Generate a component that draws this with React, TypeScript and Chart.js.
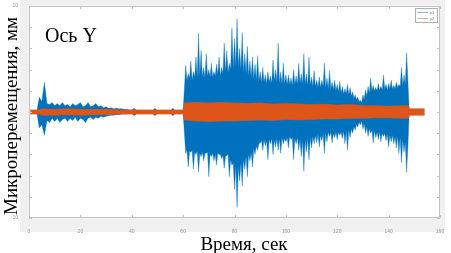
import React, { useEffect, useRef } from "react";
import { Chart, registerables } from "chart.js";

Chart.register(...registerables);

// Blue series (y1): peak envelope, sampled every 1 s from t = 0 to 155
const blueUpper: (number | null)[] = [
  0, 0, 0, 0, 1.4, 1.0, 2.8, 0.8, 0.7, 0.9,
  0.6, 0.8, 0.6, 0.9, 0.6, 0.7, 0.5, 0.8, 0.6, 0.7,
  0.9, 0.5, 0.6, 0.9, 0.5, 0.6, 0.8, 0.5, 0.6, 0.4,
  0.5, 0.35, 0.4, 0.3, 0.35, 0.3, 0.3, 0.25, 0.25, 0.2,
  0.2, 0.35, 0.15, 0.12, 0.12, 0.12, 0.12, 0.12, 0.12, 0.35,
  0.12, 0.12, 0.12, 0.12, 0.12, 0.12, 0.35, 0.12, 0.12, 0.12,
  0.12, 4.4, 3.6, 4.8, 3.8, 5.2, 7.4, 5.8, 4.2, 5.5,
  4.0, 4.6, 3.8, 4.5, 5.2, 4.2, 6.5, 5.8, 4.6, 7.9,
  6.9, 8.8, 6.0, 7.5, 5.5, 6.2, 4.8, 5.2, 4.5, 5.3,
  3.8, 4.2, 3.5, 3.8, 3.4, 4.9, 4.0, 6.5, 3.8, 4.6,
  3.5, 3.5, 3.2, 4.0, 3.4, 4.6, 3.6, 5.5, 3.6, 5.2,
  3.3, 3.9, 3.0, 3.3, 3.0, 4.6, 3.2, 3.9, 2.8, 3.0,
  2.6, 2.9, 2.4, 2.2, 2.6, 2.3, 1.9, 1.6, 1.4, 1.1,
  1.6, 2.1, 2.4, 3.2, 2.5, 2.3, 2.7, 2.4, 3.5, 2.6,
  2.7, 3.0, 2.5, 2.8, 2.6, 4.2, 3.5, 5.6, 0.25, 0.25,
  0.25, 0.25, 0.25, 0.25, 0.25, null,
];
const blueLower: (number | null)[] = [
  0, 0, 0, 0, -1.5, -1.2, -2.2, -0.8, -1.0, -0.6,
  -0.9, -0.6, -1.0, -0.7, -0.6, -0.9, -0.6, -0.8, -0.5, -0.9,
  -0.6, -0.7, -1.0, -0.6, -0.5, -0.7, -0.5, -0.6, -0.4, -0.5,
  -0.4, -0.35, -0.3, -0.3, -0.25, -0.25, -0.2, -0.2, -0.2, -0.15,
  -0.15, -0.35, -0.12, -0.12, -0.12, -0.12, -0.12, -0.12, -0.12, -0.35,
  -0.12, -0.12, -0.12, -0.12, -0.12, -0.12, -0.35, -0.12, -0.12, -0.12,
  -0.12, -3.9, -5.2, -3.8, -5.4, -4.0, -5.7, -4.2, -4.6, -3.9,
  -6.1, -4.2, -4.6, -5.0, -4.0, -4.4, -5.3, -4.1, -6.1, -5.0,
  -7.3, -9.0, -6.5, -7.0, -5.4, -6.1, -4.6, -5.2, -4.0, -3.6,
  -2.9, -3.6, -3.2, -4.5, -3.0, -4.0, -3.3, -3.6, -3.9, -3.0,
  -2.8, -3.4, -2.6, -4.5, -3.0, -3.6, -4.2, -5.6, -3.8, -4.5,
  -3.4, -3.0, -2.9, -3.3, -2.7, -3.9, -2.8, -2.3, -2.9, -2.4,
  -2.6, -2.2, -2.5, -3.0, -3.6, -2.4, -2.0, -1.7, -1.4, -1.2,
  -1.6, -2.0, -2.3, -2.0, -2.9, -2.4, -2.6, -2.8, -2.3, -2.7,
  -3.3, -2.8, -3.0, -3.4, -3.9, -4.8, -3.8, -5.7, -0.25, -0.25,
  -0.25, -0.25, -0.25, -0.25, -0.25, null,
];

// Blue series dense core, at t + 0.5 s for t = 61 .. 147
const coreStart = 61;
const blueCoreUpper = [
  3.0, 3.2, 3.0, 3.3, 3.2, 3.4, 3.3, 3.2, 3.4, 3.3,
  3.3, 3.4, 3.5, 3.4, 3.6, 3.8, 3.7, 4.0, 4.2, 4.3,
  4.3, 4.0, 3.8, 3.6, 3.4, 3.2, 3.1, 3.0, 2.9, 2.8,
  2.8, 2.7, 2.8, 2.7, 2.9, 2.8, 2.7, 2.6, 2.7, 2.6,
  2.6, 2.5, 2.6, 2.6, 2.7, 2.6, 2.6, 2.5, 2.5, 2.4,
  2.4, 2.3, 2.3, 2.4, 2.3, 2.2, 2.2, 2.1, 2.0, 1.9,
  1.8, 1.7, 1.7, 1.6, 1.5, 1.3, 1.2, 1.0, 0.9, 1.2,
  1.5, 1.8, 2.0, 2.0, 2.0, 2.1, 2.1, 2.2, 2.1, 2.2,
  2.2, 2.2, 2.3, 2.4, 2.5, 2.6, 3.0,
];
const blueCoreLower = [
  -3.6, -3.7, -3.6, -3.8, -3.7, -3.9, -3.8, -3.9, -3.8, -4.0,
  -3.9, -4.0, -3.9, -4.0, -4.1, -4.2, -4.0, -4.5, -4.8, -5.0,
  -5.2, -4.8, -4.5, -4.2, -4.0, -3.8, -3.5, -3.2, -3.0, -2.7,
  -2.6, -2.7, -2.6, -2.5, -2.6, -2.5, -2.5, -2.4, -2.5, -2.4,
  -2.3, -2.4, -2.5, -2.4, -2.6, -2.7, -2.6, -2.5, -2.4, -2.3,
  -2.2, -2.1, -2.2, -2.1, -2.0, -1.9, -1.9, -2.0, -1.9, -1.9,
  -1.9, -1.8, -1.8, -1.7, -1.6, -1.4, -1.2, -1.0, -0.9, -1.1,
  -1.4, -1.6, -1.7, -1.8, -1.9, -1.9, -2.0, -2.0, -2.1, -2.2,
  -2.2, -2.3, -2.3, -2.4, -2.6, -2.8, -3.2,
];

// Orange series (y2): envelope at irregular sample times
const orangeTime = [
  0.5, 4, 5, 10, 15, 20, 25, 30, 35, 40,
  41, 60, 60.5, 65, 70, 75, 80, 85, 90, 95,
  100, 105, 110, 115, 120, 125, 130, 135, 140, 145,
  147.7, 148, 154,
];
const orangeUpper = [
  0.2, 0.2, 0.3, 0.25, 0.3, 0.25, 0.25, 0.25, 0.2, 0.2,
  0.2, 0.2, 0.85, 0.9, 0.85, 0.9, 0.85, 0.8, 0.85, 0.75,
  0.8, 0.75, 0.7, 0.75, 0.65, 0.7, 0.6, 0.6, 0.55, 0.6,
  0.6, 0.3, 0.3,
];
const orangeLower = [
  -0.2, -0.2, -0.3, -0.3, -0.25, -0.3, -0.25, -0.25, -0.2, -0.2,
  -0.2, -0.2, -0.75, -0.85, -0.9, -0.85, -0.85, -0.8, -0.75, -0.8,
  -0.7, -0.75, -0.7, -0.65, -0.65, -0.6, -0.6, -0.55, -0.55, -0.6,
  -0.6, -0.3, -0.3,
];

const xTicks = [0, 20, 40, 60, 80, 100, 120, 140, 160];
const yTicks = [-10, -8, -6, -4, -2, 0, 2, 4, 6, 8, 10];
const legendLabels = ["y1", "y2"];
const plotTitle = "Ось Y";
const xTitle = "Время, сек";
const yTitle = "Микроперемещения, мм";

const BLUE = "rgb(0,114,189)";
const ORANGE = "rgb(222,85,25)";
const FRAME = "#c4c4c4";

function mergeBlue(peaks: (number | null)[], core: number[]) {
  const pts: { x: number; y: number | null }[] = [];
  peaks.forEach((v, i) => {
    pts.push({ x: i, y: v });
    const k = i - coreStart;
    if (k >= 0 && k < core.length) pts.push({ x: i + 0.5, y: core[k] });
  });
  return pts;
}

const decorPlugin = {
  id: "decor",
  beforeDraw(chart: any) {
    const { ctx, chartArea: a } = chart;
    ctx.save();
    ctx.fillStyle = "#f0f0f0";
    ctx.fillRect(20, 0, 425, 232);
    ctx.fillStyle = "#ffffff";
    ctx.fillRect(a.left, a.top, a.right - a.left, a.bottom - a.top);
    ctx.restore();
  },
  afterDraw(chart: any) {
    const { ctx, chartArea: a, scales } = chart;
    ctx.save();
    ctx.strokeStyle = FRAME;
    ctx.lineWidth = 1;
    ctx.strokeRect(a.left + 0.5, a.top + 0.5, a.right - a.left - 1, a.bottom - a.top - 1);
    ctx.beginPath();
    for (const v of xTicks) {
      const px = Math.round(scales.x.getPixelForValue(v)) + 0.5;
      ctx.moveTo(px, a.bottom);
      ctx.lineTo(px, a.bottom - 3);
      ctx.moveTo(px, a.top);
      ctx.lineTo(px, a.top + 3);
    }
    for (const v of yTicks) {
      const py = Math.round(scales.y.getPixelForValue(v)) + 0.5;
      ctx.moveTo(a.left, py);
      ctx.lineTo(a.left + 3, py);
      ctx.moveTo(a.right, py);
      ctx.lineTo(a.right - 3, py);
    }
    ctx.stroke();

    // legend box
    ctx.fillStyle = "#ffffff";
    ctx.fillRect(415, 8, 22, 14);
    ctx.strokeStyle = "#b0b0b0";
    ctx.strokeRect(415.5, 8.5, 22, 14);
    ctx.lineWidth = 0.8;
    ctx.strokeStyle = "rgba(0,114,189,0.6)";
    ctx.beginPath();
    ctx.moveTo(417, 12.5);
    ctx.lineTo(428, 12.5);
    ctx.stroke();
    ctx.strokeStyle = "rgba(222,85,25,0.6)";
    ctx.beginPath();
    ctx.moveTo(417, 18.5);
    ctx.lineTo(428, 18.5);
    ctx.stroke();
    ctx.fillStyle = "#777";
    ctx.font = "4px 'Liberation Sans'";
    ctx.textBaseline = "middle";
    ctx.fillText(legendLabels[0], 430, 12.5);
    ctx.fillText(legendLabels[1], 430, 18.5);

    // titles
    ctx.fillStyle = "#000";
    ctx.textBaseline = "alphabetic";
    ctx.textAlign = "left";
    ctx.font = "20px 'Liberation Serif'";
    ctx.fillText(plotTitle, 45, 42);
    ctx.textAlign = "center";
    ctx.font = "19px 'Liberation Serif'";
    ctx.fillText(xTitle, 244, 250);
    ctx.save();
    ctx.translate(17, 116);
    ctx.rotate(-Math.PI / 2);
    ctx.font = "19px 'Liberation Serif'";
    ctx.fillText(yTitle, 0, 0);
    ctx.restore();
    ctx.restore();
  },
};

export default function App() {
  const ref = useRef<HTMLCanvasElement | null>(null);
  useEffect(() => {
    if (!ref.current) return;
    const chart = new Chart(ref.current, {
      type: "line",
      data: {
        datasets: [
          {
            label: "y2",
            data: orangeTime.map((t, i) => ({ x: t, y: orangeUpper[i] })),
            borderColor: ORANGE,
            backgroundColor: ORANGE,
            borderWidth: 0.6,
            fill: "+1",
            order: 0,
          },
          {
            label: "y2-lo",
            data: orangeTime.map((t, i) => ({ x: t, y: orangeLower[i] })),
            borderColor: ORANGE,
            backgroundColor: ORANGE,
            borderWidth: 0.6,
            fill: false,
            order: 0,
          },
          {
            label: "y1",
            data: mergeBlue(blueUpper, blueCoreUpper),
            borderColor: "rgba(0,114,189,0.7)",
            backgroundColor: BLUE,
            borderWidth: 0.5,
            fill: "+1",
            order: 1,
          },
          {
            label: "y1-lo",
            data: mergeBlue(blueLower, blueCoreLower),
            borderColor: "rgba(0,114,189,0.7)",
            backgroundColor: BLUE,
            borderWidth: 0.5,
            fill: false,
            order: 1,
          },
        ] as any,
      },
      options: {
        responsive: false,
        animation: false,
        elements: { point: { radius: 0 }, line: { tension: 0 } },
        layout: { padding: { top: 5, right: 11, left: 0, bottom: 0 } },
        plugins: { legend: { display: false }, tooltip: { enabled: false } },
        scales: {
          x: {
            type: "linear",
            min: 0,
            max: 160,
            afterFit: (s: any) => { s.height = 35; },
            afterBuildTicks: (s: any) => { s.ticks = xTicks.map((v) => ({ value: v })); },
            grid: { display: false },
            border: { display: false },
            ticks: { font: { size: 5, family: "'Liberation Sans'" }, color: "#999", padding: 3, maxRotation: 0, autoSkip: false },
          },
          y: {
            type: "linear",
            min: -10,
            max: 10,
            afterFit: (s: any) => { s.width = 29; },
            afterBuildTicks: (s: any) => { s.ticks = yTicks.map((v) => ({ value: v })); },
            grid: { display: false },
            border: { display: false },
            ticks: { font: { size: 5, family: "'Liberation Sans'" }, color: "#999", padding: 3, autoSkip: false },
          },
        },
      },
      plugins: [decorPlugin],
    });
    return () => chart.destroy();
  }, []);
  return (
    <div style={{ position: "absolute", left: 0, top: 0, width: 451, height: 253, background: "#fff" }}>
      <canvas ref={ref} width={451} height={253} style={{ display: "block" }} />
    </div>
  );
}
